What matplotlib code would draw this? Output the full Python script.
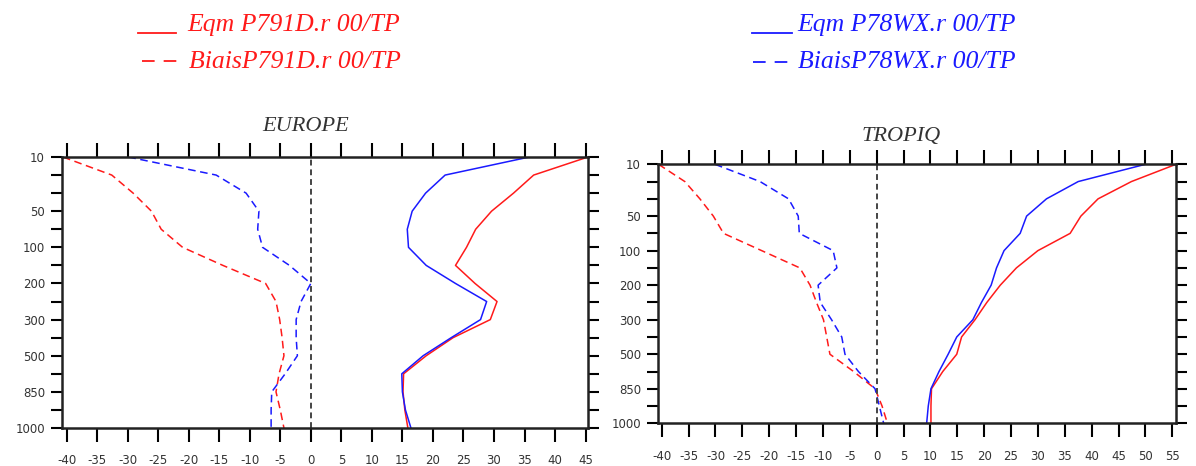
import numpy as np
import matplotlib.pyplot as plt
from matplotlib.lines import Line2D

plt.rcParams['axes.unicode_minus'] = False

levels = [10, 20, 30, 50, 70, 100, 150, 200, 250, 300, 400, 500, 700, 850, 925, 1000]
shown_levels = [10, 50, 100, 200, 300, 500, 850, 1000]

# EUROPE
eur_eqm_p791d = [45.4, 36.5, 33.2, 29.6, 27.0, 25.5, 23.7, 26.9, 30.5, 29.4, 23.3, 18.9, 15.2, 15.1, 15.4, 15.9]
eur_eqm_p78wx = [35.8, 22.0, 18.8, 16.6, 15.8, 16.0, 18.9, 23.7, 28.8, 27.8, 23.0, 18.4, 14.9, 15.0, 15.5, 16.4]
eur_bias_p791d = [-40.6, -32.6, -29.1, -26.1, -24.5, -21.0, -14.4, -7.4, -5.7, -5.1, -4.7, -4.4, -5.2, -5.7, -5.0, -4.4]
eur_bias_p78wx = [-29.9, -15.5, -10.6, -8.5, -8.7, -7.9, -3.5, 0.0, -1.6, -2.4, -2.4, -2.2, -4.2, -6.4, -6.5, -6.5]

# TROPIQ
trop_eqm_p791d = [55.7, 47.4, 41.2, 38.0, 36.0, 30.0, 26.0, 23.0, 20.5, 18.3, 15.8, 14.9, 12.3, 10.2, 10.1, 10.1]
trop_eqm_p78wx = [50.0, 37.5, 31.6, 27.9, 26.7, 23.7, 22.3, 21.3, 19.5, 17.9, 14.9, 13.3, 11.6, 10.1, 9.6, 9.3]
trop_bias_p791d = [-40.6, -35.7, -32.9, -30.4, -28.5, -21.4, -14.3, -12.4, -11.2, -9.9, -9.3, -8.7, -4.3, -0.3, 1.0, 2.0]
trop_bias_p78wx = [-30.1, -21.7, -16.4, -14.6, -14.4, -8.1, -7.4, -10.9, -10.5, -8.4, -6.5, -5.9, -3.4, -0.3, 0.5, 1.3]

RED = '#ff1a1a'
BLUE = '#1a1aff'
W, H = 1196, 466

fig = plt.figure(figsize=(W / 100, H / 100), dpi=100)


def box(x0, y0, x1, y1):
    return [x0 / W, 1 - y1 / H, (x1 - x0) / W, (y1 - y0) / H]


def panel(rect, eqm_r, eqm_b, bias_r, bias_b, xlim, xticks):
    ax = fig.add_axes(rect)
    y = np.arange(len(levels))
    ax.plot(eqm_r, y, color=RED, lw=1.1)
    ax.plot(eqm_b, y, color=BLUE, lw=1.1)
    ax.plot(bias_r, y, color=RED, lw=1.1, dashes=(5, 3))
    ax.plot(bias_b, y, color=BLUE, lw=1.1, dashes=(5, 3))
    ax.axvline(0, color='#444444', lw=1.4, dashes=(3, 2))
    ax.set_xlim(*xlim)
    ax.set_ylim(len(levels) - 1, 0)
    ax.set_yticks(y)
    ax.set_yticklabels([str(l) if l in shown_levels else '' for l in levels])
    ax.set_xticks(xticks)
    ax.set_xticklabels([str(t) for t in xticks])
    ax.tick_params(axis='x', which='both', direction='out', length=10, width=1.5,
                   top=True, bottom=True, labelsize=8.5, labelcolor='#333333', pad=9)
    ax.tick_params(axis='y', direction='out', length=8, width=1.5,
                   left=True, right=True, labelsize=8.5, labelcolor='#333333', pad=4)
    for s in ax.spines.values():
        s.set_linewidth(1.8)
        s.set_color('#222222')
    return ax


panel(box(61.7, 157, 588, 428), eur_eqm_p791d, eur_eqm_p78wx, eur_bias_p791d, eur_bias_p78wx,
      (-40.8, 45.4), list(range(-40, 46, 5)))
panel(box(657.7, 164.3, 1176, 423.3), trop_eqm_p791d, trop_eqm_p78wx, trop_bias_p791d, trop_bias_p78wx,
      (-40.75, 55.7), list(range(-40, 56, 5)))

serif = ['Liberation Serif', 'DejaVu Serif']
fig.text(306 / W, 1 - 131 / H, 'EUROPE', family=serif, style='italic', fontsize=16,
         ha='center', va='baseline', color='#333333')
fig.text(901 / W, 1 - 141 / H, 'TROPIQ', family=serif, style='italic', fontsize=16,
         ha='center', va='baseline', color='#333333')

# legends: (line x0, line x1, line y, text x, text baseline, label, colour, style)
legend_items = [
    (138, 176, 33, 187, 31, 'Eqm P791D.r 00/TP', RED, '-'),
    (142, 177, 61, 189, 68, 'BiaisP791D.r 00/TP', RED, '--'),
    (752, 792, 33, 797, 31, 'Eqm P78WX.r 00/TP', BLUE, '-'),
    (753, 792, 62, 798, 68, 'BiaisP78WX.r 00/TP', BLUE, '--'),
]
for x0, x1, yl, xt, yt, label, c, ls in legend_items:
    if ls == '-':
        fig.add_artist(Line2D([x0 / W, x1 / W], [1 - yl / H, 1 - yl / H], color=c, lw=1.3))
    else:
        fig.add_artist(Line2D([x0 / W, x1 / W], [1 - yl / H, 1 - yl / H], color=c, lw=1.3,
                              dashes=(7, 5)))
    fig.text(xt / W, 1 - yt / H, label, family=serif, style='italic', fontsize=18.5,
             ha='left', va='baseline', color=c)

fig.savefig('out.png', dpi=100)
